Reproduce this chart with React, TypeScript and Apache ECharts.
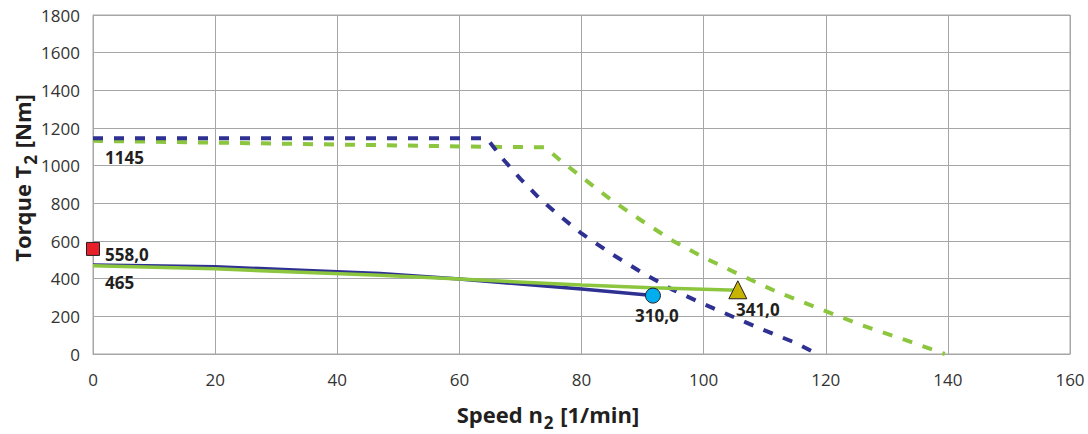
import React, { useEffect, useRef } from "react";
import * as echarts from "echarts";

const blueDashedSpeed = [0, 64.5, 67, 70, 73, 76, 80, 85, 90, 95, 100, 105, 110, 115, 118.6];
const blueDashedTorque = [1145, 1145, 1040, 930, 830, 745, 640, 530, 430, 340, 265, 195, 125, 60, 0];
const greenDashedSpeed = [0, 65, 74, 77, 80, 85, 90, 95, 100, 106, 112, 119, 126, 133, 139.5];
const greenDashedTorque = [1132, 1100, 1098, 1016, 940, 815, 705, 600, 513, 420, 330, 240, 152, 75, 0];
const blueSolidSpeed = [0, 20, 35, 47, 60, 80, 91.7];
const blueSolidTorque = [472, 463, 444, 428, 398, 345, 310];
const greenSolidSpeed = [0, 20, 47, 60, 80, 91.5, 105.6];
const greenSolidTorque = [468, 452, 418, 398, 366, 352, 338];

const squarePoint = [0, 558];
const circlePoint = [91.7, 310];
const trianglePoint = [105.6, 341];
const startLabelValues = [1145, 465];

const pairs = (xs: number[], ys: number[]) => xs.map((x, i) => [x, ys[i]]);

const FONT = "Open Sans";
const TEXT = "#333333";
const DARK = "#231f20";
const NAVY = "#2e3192";
const GREEN = "#8cc63f";
const GRID = "#a6a6a6";

const decimal = (v: number) => v.toFixed(1).replace(".", ",");

export default function App() {
  const ref = useRef<HTMLDivElement>(null);
  useEffect(() => {
    document.body.style.margin = "0";
    if (!ref.current) return;
    const chart = echarts.init(ref.current, undefined, { renderer: "svg" });
    const labelStyle = {
      show: true,
      fontFamily: FONT,
      fontWeight: "bold" as const,
      fontSize: 17,
      color: DARK,
    };
    const titleRich = {
      a: { fontFamily: FONT, fontSize: 22, fontWeight: "bold", fill: DARK, lineHeight: 28 },
      s: { fontFamily: FONT, fontSize: 17, fontWeight: "bold", fill: DARK, lineHeight: 28, padding: [16, 1, 0, 1] },
    };
    chart.setOption({
      animation: false,
      grid: {
        left: 93,
        right: 18,
        top: 15,
        bottom: 80,
        show: true,
        borderColor: GRID,
        borderWidth: 1,
      },
      xAxis: {
        type: "value",
        min: 0,
        max: 160,
        interval: 20,
        axisLine: { show: true, lineStyle: { color: GRID, width: 1 } },
        axisTick: { show: false },
        splitLine: { show: true, lineStyle: { color: GRID, width: 1 } },
        axisLabel: { fontFamily: FONT, fontSize: 17, color: TEXT, margin: 17, formatter: (v: number) => String(v) },
      },
      yAxis: {
        type: "value",
        min: 0,
        max: 1800,
        interval: 200,
        axisLine: { show: true, lineStyle: { color: GRID, width: 1 } },
        axisTick: { show: false },
        splitLine: { show: true, lineStyle: { color: GRID, width: 1 } },
        axisLabel: { fontFamily: FONT, fontSize: 17, color: TEXT, margin: 13, formatter: (v: number) => String(v) },
      },
      graphic: [
        {
          type: "text",
          x: 548,
          y: 414,
          style: {
            text: "{a|Speed n}{s|2}{a| [1/min]}",
            align: "center",
            verticalAlign: "middle",
            rich: titleRich,
          },
        },
        {
          type: "text",
          x: 22,
          y: 178,
          rotation: Math.PI / 2,
          style: {
            text: "{a|Torque T}{s|2}{a| [Nm]}",
            align: "center",
            verticalAlign: "middle",
            rich: titleRich,
          },
        },
      ],
      series: [
        {
          type: "line",
          data: pairs(greenDashedSpeed, greenDashedTorque),
          showSymbol: false,
          lineStyle: { color: GREEN, width: 4, type: [10, 11] },
          z: 2,
        },
        {
          type: "line",
          data: pairs(blueDashedSpeed, blueDashedTorque),
          showSymbol: false,
          lineStyle: { color: NAVY, width: 4, type: [10, 11] },
          z: 3,
        },
        {
          type: "line",
          data: pairs(blueSolidSpeed, blueSolidTorque),
          showSymbol: false,
          lineStyle: { color: NAVY, width: 3.5 },
          z: 4,
        },
        {
          type: "line",
          data: pairs(greenSolidSpeed, greenSolidTorque),
          showSymbol: false,
          lineStyle: { color: GREEN, width: 3.5 },
          z: 5,
        },
        {
          type: "scatter",
          data: [
            { value: [0, startLabelValues[0]], label: { offset: [0, 19] } },
            { value: [0, startLabelValues[1]], label: { offset: [0, 16] } },
          ],
          symbolSize: 0,
          itemStyle: { color: "transparent", opacity: 1 },
          label: {
            ...labelStyle,
            position: "right",
            distance: 12,
            formatter: (p: any) => String(p.value[1]),
          },
          z: 6,
        },
        {
          type: "scatter",
          data: [squarePoint],
          symbol: "rect",
          symbolSize: 13,
          itemStyle: { color: "#e8202a", borderColor: DARK, borderWidth: 1, opacity: 1 },
          label: {
            ...labelStyle,
            position: "right",
            distance: 5,
            offset: [0, 6],
            formatter: (p: any) => decimal(p.value[1]),
          },
          z: 7,
        },
        {
          type: "scatter",
          data: [circlePoint],
          symbol: "circle",
          symbolSize: 15,
          itemStyle: { color: "#00aeef", borderColor: DARK, borderWidth: 1, opacity: 1 },
          label: {
            ...labelStyle,
            position: "bottom",
            distance: 3,
            offset: [4, 0],
            formatter: (p: any) => decimal(p.value[1]),
          },
          z: 7,
        },
        {
          type: "scatter",
          data: [trianglePoint],
          symbol: "triangle",
          symbolSize: 18,
          itemStyle: { color: "#c7b300", borderColor: DARK, borderWidth: 1, opacity: 1 },
          label: {
            ...labelStyle,
            position: "bottom",
            distance: 2,
            offset: [20, 0],
            formatter: (p: any) => decimal(p.value[1]),
          },
          z: 7,
        },
      ],
    });
    return () => chart.dispose();
  }, []);
  return <div ref={ref} style={{ width: 1088, height: 434 }} />;
}
